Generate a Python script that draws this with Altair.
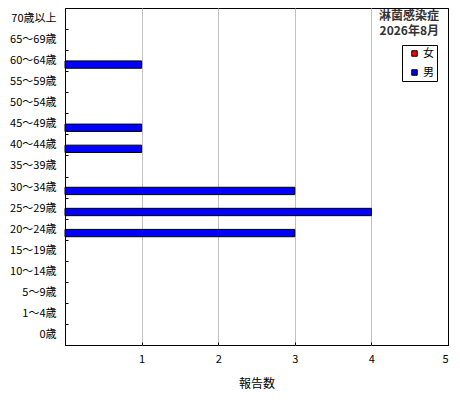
import altair as alt
import pandas as pd

ages = ["0歳", "1〜4歳", "5〜9歳", "10〜14歳", "15〜19歳", "20〜24歳", "25〜29歳",
        "30〜34歳", "35〜39歳", "40〜44歳", "45〜49歳", "50〜54歳", "55〜59歳",
        "60〜64歳", "65〜69歳", "70歳以上"]
female = [0, 0, 0, 0, 0, 0, 0, 0, 0, 0, 0, 0, 0, 0, 0, 0]
male = [0, 0, 0, 0, 0, 3, 4, 3, 0, 1, 1, 0, 0, 1, 0, 0]
sexes = ["女", "男"]
sex_colors = ["#ff0000", "#0000ff"]
x_ticks = [0, 1, 2, 3, 4, 5]
title_lines = ["淋菌感染症", "2026年8月"]
x_title = "報告数"

rows = []
for a, f, m in zip(ages, female, male):
    rows.append({"age": a, "sex": "女", "count": f})
    rows.append({"age": a, "sex": "男", "count": m})
df = pd.DataFrame(rows)

FONT = "Noto Sans CJK JP"
order = ages[::-1]

bars = alt.Chart(df).transform_filter("datum.count > 0").mark_bar(
    stroke="black", strokeWidth=1
).encode(
    x=alt.X("count:Q",
            scale=alt.Scale(domain=[0, 5], nice=False),
            axis=alt.Axis(values=x_ticks, title=x_title, offset=-3, domain=False,
                          tickSize=3, tickColor="black", labelPadding=8,
                          labelExpr="datum.value == 0 ? '' : datum.label",
                          gridColor={"condition": {"test": "datum.value == 0 || datum.value == 5",
                                                   "value": "black"},
                                     "value": "#c0c0c0"},
                          titlePadding=14, titleFontSize=12, titleFontWeight="normal")),
    y=alt.Y("age:N", sort=order,
            scale=alt.Scale(domain=order, paddingInner=0, paddingOuter=0),
            axis=alt.Axis(title=None, offset=-3, domain=False, tickSize=3,
                          tickColor="black", tickBand="extent", labelPadding=9,
                          grid=False)),
    yOffset=alt.YOffset("sex:N", scale=alt.Scale(domain=sexes, range=[0, 18.1],
                                                 paddingInner=0.32, paddingOuter=0)),
    color=alt.Color("sex:N", scale=alt.Scale(domain=sexes, range=sex_colors),
                    legend=alt.Legend(title=None, orient="none", legendX=337, legendY=37,
                                      strokeColor="black", fillColor="white",
                                      padding=3, symbolType="square", symbolSize=30,
                                      symbolStrokeColor="black", symbolStrokeWidth=1,
                                      symbolOffset=4, labelOffset=3, rowPadding=7,
                                      labelFontSize=11, labelFont=FONT)),
)

title = alt.Chart(alt.Data(values=[{"a": 1}])).mark_text(
    text=title_lines, align="right", baseline="top", fontSize=12,
    fontWeight="bold", lineHeight=15, font=FONT, color="#333333"
).encode(x=alt.value(374), y=alt.value(3))

chart = alt.layer(bars, title).properties(
    width=383, height=337,
    autosize=alt.AutoSizeParams(type="none"),
    padding={"left": 57, "top": 0, "right": 4, "bottom": 47},
).configure_view(
    stroke="black", strokeWidth=1
).configure_axis(
    labelFont=FONT, titleFont=FONT, labelFontSize=11, labelColor="black",
    titleColor="black", gridOpacity=1
)

chart.save("out.html", embed_options={"renderer": "svg", "actions": False})
